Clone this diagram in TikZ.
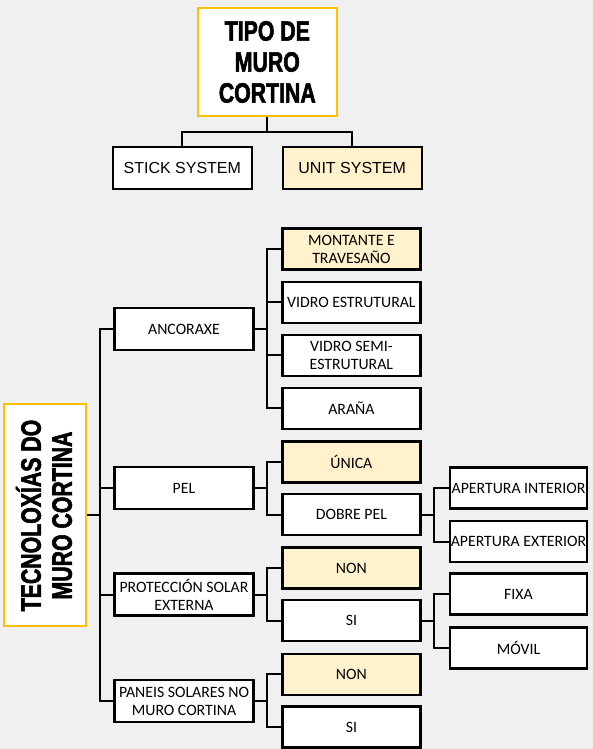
\documentclass[tikz,border=0pt]{standalone}
\usepackage{fontspec}
\setmainfont{Carlito}
\newfontfamily\arialf{Liberation Sans}
\newfontfamily\titlef[FakeStretch=0.76,FakeBold=2,UprightFont={* Bold},BoldFont={* Bold}]{Liberation Sans}
\definecolor{bgc}{HTML}{F0F0F0}
\definecolor{ylfill}{HTML}{FFF2CC}
\definecolor{ylline}{HTML}{FFC000}
\tikzset{
  bx/.style={draw=black, line width=2.3pt, fill=white, inner sep=0pt, align=center,
    font=\fontsize{15.8}{18}\selectfont},
  ybx/.style={bx, fill=ylfill},
  topbx/.style={bx, font=\arialf\fontsize{16}{18}\selectfont},
  titlebx/.style={draw=ylline, line width=2.5pt, fill=white, inner sep=0pt, align=center,
    font=\titlef\fontsize{28}{31}\selectfont},
  conn/.style={draw=black, line width=2pt},
  w2/.style={minimum width=139pt, minimum height=42pt},
  w3/.style={minimum width=138pt, minimum height=41pt},
}
\begin{document}
\begin{tikzpicture}[x=1pt,y=-1pt]
\fill[bgc] (0,0) rectangle (593,749);
\useasboundingbox (0,0) rectangle (593,749);

% top part
\node[titlebx, minimum width=139pt, minimum height=108pt] (tipo) at (267.3,62) {TIPO DE\\MURO\\CORTINA};
\node[topbx, minimum width=139pt, minimum height=42pt] (stick) at (182.3,168) {STICK SYSTEM};
\node[topbx, fill=ylfill, minimum width=139pt, minimum height=42pt] (unit) at (352.2,168) {UNIT SYSTEM};
\coordinate (j1) at (267.3,132);
\draw[conn] (tipo.south) -- (j1);
\draw[conn] (stick.north) |- (j1) -| (unit.north);

% lower part
\node[titlebx, minimum width=82pt, minimum height=222pt] (tec) at (45,515) {};
\node[font=\titlef\fontsize{28}{31}\selectfont, align=center, rotate=90, inner sep=0pt] (tect) at (44,515.5) {TECNOLOXÍAS DO\\MURO CORTINA};

\node[bx, w2] (anc) at (184,329) {ANCORAXE};
\node[bx, w2] (pel) at (184,488) {PEL};
\node[bx, w2] (prot) at (184,594.5) {PROTECCIÓN SOLAR\\EXTERNA};
\node[bx, w2] (pan) at (184,701) {PANEIS SOLARES NO\\MURO CORTINA};

\coordinate (t0) at (100,515);
\draw[conn] (tec.east) -- (t0);
\foreach \n in {anc,pel,prot,pan} \draw[conn] (\n.west) -| (t0);

\node[ybx, w3] (mont) at (351.4,249) {MONTANTE E\\TRAVESAÑO};
\node[bx, w3] (vest) at (351.4,302.3) {VIDRO ESTRUTURAL};
\node[bx, w3] (vsemi) at (351.4,355.3) {VIDRO SEMI-\\ESTRUTURAL};
\node[bx, w3] (arana) at (351.4,408.3) {ARAÑA};
\node[ybx, w3] (unica) at (351.4,462) {ÚNICA};
\node[bx, w3] (dobre) at (351.4,514.5) {DOBRE PEL};
\node[ybx, w3] (non1) at (351.4,568) {NON};
\node[bx, w3] (si1) at (351.4,620.5) {SI};
\node[ybx, w3] (non2) at (351.4,674.3) {NON};
\node[bx, w3] (si2) at (351.4,727) {SI};

\coordinate (a0) at (267,329);
\draw[conn] (anc.east) -- (a0);
\foreach \n in {mont,vest,vsemi,arana} \draw[conn] (\n.west) -| (a0);
\coordinate (p0) at (267,488);
\draw[conn] (pel.east) -- (p0);
\foreach \n in {unica,dobre} \draw[conn] (\n.west) -| (p0);
\coordinate (s0) at (267,594.5);
\draw[conn] (prot.east) -- (s0);
\foreach \n in {non1,si1} \draw[conn] (\n.west) -| (s0);
\coordinate (q0) at (267,701);
\draw[conn] (pan.east) -- (q0);
\foreach \n in {non2,si2} \draw[conn] (\n.west) -| (q0);

\node[bx, minimum width=137pt, minimum height=41pt] (apint) at (518.5,488) {APERTURA INTERIOR};
\node[bx, minimum width=137pt, minimum height=41pt] (apext) at (518.5,541.7) {APERTURA EXTERIOR};
\node[bx, minimum width=137pt, minimum height=41pt] (fixa) at (518.5,594) {FIXA};
\node[bx, minimum width=137pt, minimum height=41pt] (movil) at (518.5,648) {MÓVIL};

\coordinate (d0) at (434,514.5);
\draw[conn] (dobre.east) -- (d0);
\foreach \n in {apint,apext} \draw[conn] (\n.west) -| (d0);
\coordinate (e0) at (434,620.5);
\draw[conn] (si1.east) -- (e0);
\foreach \n in {fixa,movil} \draw[conn] (\n.west) -| (e0);
\end{tikzpicture}
\end{document}
